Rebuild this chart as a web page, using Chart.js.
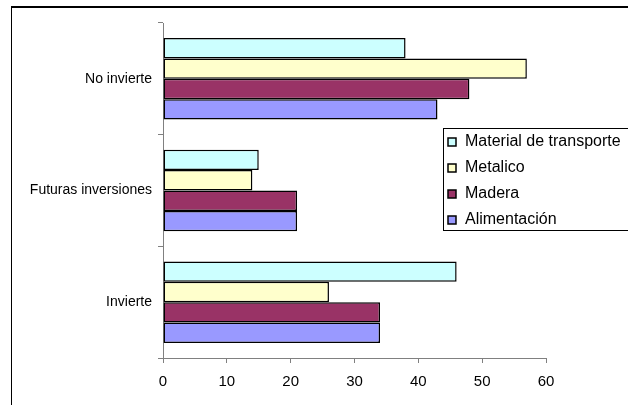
<!DOCTYPE html>
<html lang="es">
<head>
    <meta charset="UTF-8">
    <title>Inversiones por sector</title>
    <script src="https://cdn.jsdelivr.net/npm/chart.js"></script>
    <style>
        body { margin: 0; background: #fff; overflow: hidden; }
        .wrap { position: relative; width: 628px; height: 405px; }
        canvas { display: block; }
    </style>
</head>
<body>
    <div class="wrap">
        <canvas id="chart" width="628" height="405"></canvas>
    </div>

    <script>
        // Data
        const categories = ['No invierte', 'Futuras inversiones', 'Invierte'];
        const seriesNames = ['Material de transporte', 'Metalico', 'Madera', 'Alimentación'];
        const materialTransporte = [38, 15, 46];
        const metalico = [57, 14, 26];
        const madera = [48, 21, 34];
        const alimentacion = [43, 21, 34];
        const xTicks = [0, 10, 20, 30, 40, 50, 60];

        const colors = ['#CCFFFF', '#FFFFCC', '#993366', '#9999FF'];
        const values = [materialTransporte, metalico, madera, alimentacion];

        const font = 'Liberation Sans, Arial, sans-serif';

        // frame and legend box drawn over the plot area, like the original
        const boxLegend = {
            id: 'boxLegend',
            afterDraw(chart) {
                const ctx = chart.ctx;
                ctx.save();
                // frame: only its top and left edges fall inside the picture
                ctx.fillStyle = '#000';
                ctx.fillRect(11, 6, 617, 2);
                ctx.fillRect(11, 6, 1, 399);

                ctx.fillStyle = '#fff';
                ctx.fillRect(443.5, 128.5, 200, 102);
                ctx.strokeStyle = '#000';
                ctx.lineWidth = 1;
                ctx.strokeRect(443.5, 128.5, 200, 102);
                ctx.font = '16px ' + font;
                ctx.textBaseline = 'middle';
                chart.data.datasets.forEach((ds, i) => {
                    const y = 142 + i * 26;
                    ctx.fillStyle = ds.backgroundColor;
                    ctx.fillRect(448, y - 4, 8, 8);
                    ctx.lineWidth = 1.5;
                    ctx.strokeStyle = '#000';
                    ctx.strokeRect(448, y - 4, 8, 8);
                    ctx.fillStyle = '#000';
                    ctx.fillText(ds.label, 465, y);
                });
                ctx.restore();
            }
        };

        new Chart(document.getElementById('chart'), {
            type: 'bar',
            data: {
                labels: categories,
                datasets: seriesNames.map((name, i) => ({
                    label: name,
                    data: values[i],
                    backgroundColor: colors[i],
                    borderColor: '#000',
                    borderWidth: 1.5,
                    borderSkipped: false,
                    categoryPercentage: 0.73,
                    barPercentage: 1
                }))
            },
            options: {
                indexAxis: 'y',
                responsive: false,
                animation: false,
                layout: { padding: { top: 23, right: 82, left: 0, bottom: 0 } },
                plugins: {
                    legend: { display: false },
                    tooltip: { enabled: false }
                },
                scales: {
                    x: {
                        min: 0,
                        max: 60,
                        afterFit: s => { s.height = 47; },
                        afterBuildTicks: s => { s.ticks = xTicks.map(v => ({ value: v })); },
                        border: { color: '#808080', width: 1 },
                        grid: { drawOnChartArea: false, tickLength: 5, color: '#808080' },
                        ticks: { color: '#000', padding: 10, font: { family: font, size: 15 } }
                    },
                    y: {
                        afterFit: s => { s.width = 163; },
                        border: { color: '#808080', width: 1 },
                        grid: { drawOnChartArea: false, tickLength: 5, color: '#808080' },
                        ticks: { color: '#000', padding: 6, font: { family: font, size: 14 } }
                    }
                }
            },
            plugins: [boxLegend]
        });
    </script>
</body>
</html>
